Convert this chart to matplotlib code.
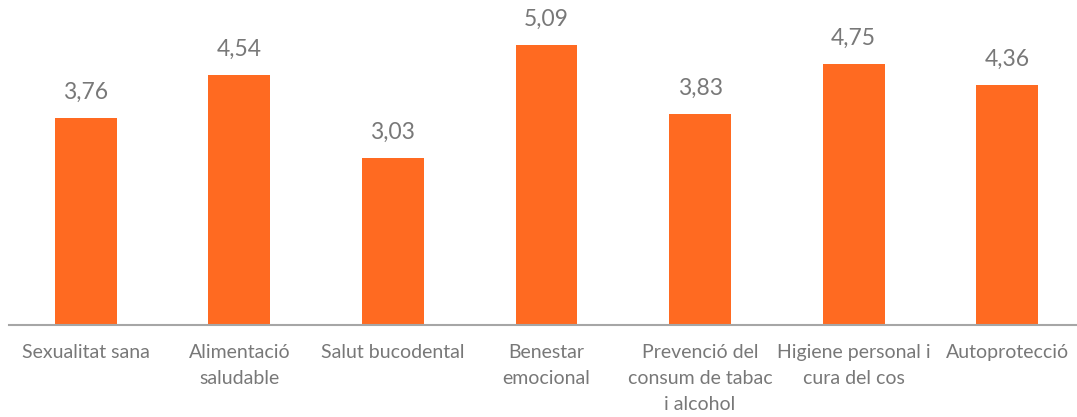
import matplotlib
matplotlib.use("Agg")
import matplotlib.pyplot as plt

categories = [
    "Sexualitat sana",
    "Alimentació\nsaludable",
    "Salut bucodental",
    "Benestar\nemocional",
    "Prevenció del\nconsum de tabac\ni alcohol",
    "Higiene personal i\ncura del cos",
    "Autoprotecció",
]
values = [3.76, 4.54, 3.03, 5.09, 3.83, 4.75, 4.36]
value_labels = ["3,76", "4,54", "3,03", "5,09", "3,83", "4,75", "4,36"]

plt.rcParams["font.family"] = ["Lato", "DejaVu Sans"]

W, H = 1077, 417
fig = plt.figure(figsize=(W / 100, H / 100), dpi=100)
ax = fig.add_axes([9 / W, (H - 325) / H, 1075 / W, 325 / H])

bar_color = "#FF6A21"
text_color = "#787878"

x = list(range(len(categories)))
ax.bar(x, values, width=0.403, color=bar_color, zorder=2)
ax.set_xlim(-0.5, len(categories) - 0.5)
ax.set_ylim(0, 325 / 55.0)

for xi, v, lab in zip(x, values, value_labels):
    ax.annotate(lab, (xi, v), xytext=(0, 11), textcoords="offset points",
                ha="center", va="bottom", fontsize=16.5, color=text_color)

ax.set_xticks(x)
ax.set_xticklabels(categories, fontsize=14, color=text_color, linespacing=1.62)
ax.tick_params(axis="x", length=0, pad=14)
ax.set_yticks([])

for s in ["top", "right", "left"]:
    ax.spines[s].set_visible(False)
ax.spines["bottom"].set_color("#A6A6A6")
ax.spines["bottom"].set_linewidth(1.5)

fig.savefig("out.png", dpi=100)
